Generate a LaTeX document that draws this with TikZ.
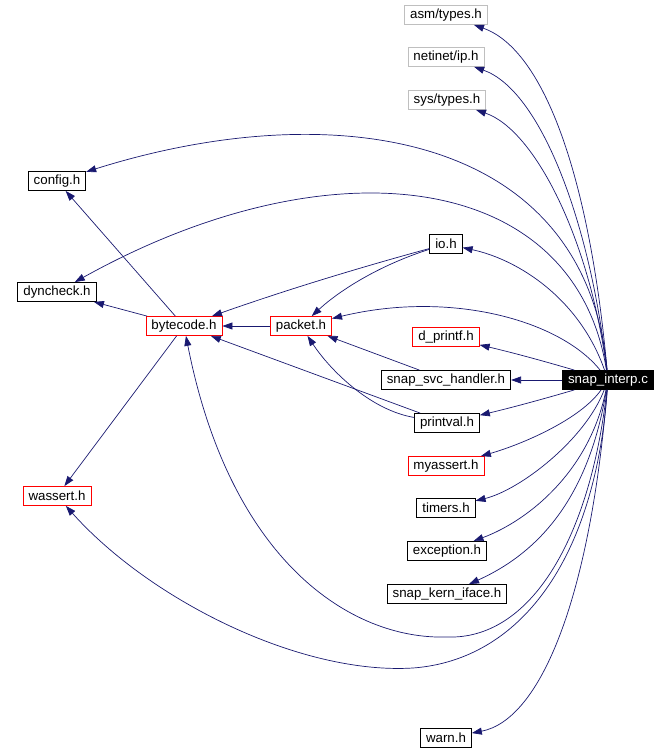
\documentclass[tikz,border=0pt]{standalone}
\usepackage{fontspec}
\setmainfont{Liberation Sans}
\usetikzlibrary{arrows.meta}
\definecolor{edgeblue}{HTML}{191970}
\definecolor{sysgray}{HTML}{BFBFBF}

\begin{document}
\begin{tikzpicture}[
  x=1pt, y=-1pt,
  every node/.style={font=\fontsize{13.3}{15}\selectfont},
  file/.style={
    draw=black, fill=white, line width=0.8pt,
    minimum height=19pt, inner xsep=5.5pt, inner ysep=0pt
  },
  redfile/.style={file, draw=red},
  sysfile/.style={file, draw=sysgray},
  mainfile/.style={file, fill=black, text=white},
  dep/.style={-{Triangle[length=10pt,width=7pt]}, color=edgeblue, line width=0.7pt}
]
  \useasboundingbox (0,0) rectangle (670,753);

  % Header files (right column)
  \node[sysfile] (asm) at (446,15) {asm/types.h};
  \node[sysfile] (netinet) at (446,57) {netinet/ip.h};
  \node[sysfile] (systypes) at (447,100) {sys/types.h};
  \node[file] (io) at (446,244) {io.h};
  \node[redfile] (dprintf) at (446,337) {d\_printf.h};
  \node[file] (svc) at (446,380) {snap\_svc\_handler.h};
  \node[file] (printval) at (447,423) {printval.h};
  \node[redfile] (myassert) at (446,466) {myassert.h};
  \node[file] (timers) at (446,508) {timers.h};
  \node[file] (exception) at (447,551) {exception.h};
  \node[file] (kern) at (447,594) {snap\_kern\_iface.h};
  \node[file] (warn) at (446,738) {warn.h};

  % Header files (left part)
  \node[file] (config) at (57,181) {config.h};
  \node[file] (dyncheck) at (57,292) {dyncheck.h};
  \node[redfile] (bytecode) at (184,326) {bytecode.h};
  \node[redfile] (packet) at (301,326) {packet.h};
  \node[redfile] (wassert) at (57,496) {wassert.h};

  % Source file
  \node[mainfile] (snap) at (608,380) {snap\_interp.c};

  % Includes of snap_interp.c
  \draw[dep] (snap) .. controls (590,180) and (545,50) .. (asm);
  \draw[dep] (snap) .. controls (590,220) and (540,90) .. (netinet);
  \draw[dep] (snap) .. controls (590,240) and (535,130) .. (systypes);
  \draw[dep] (snap) .. controls (585,130) and (330,95) .. (config);
  \draw[dep] (snap) .. controls (575,170) and (330,140) .. (dyncheck);
  \draw[dep] (snap) .. controls (580,300) and (520,260) .. (io);
  \draw[dep] (snap) .. controls (560,320) and (450,290) .. (packet);
  \draw[dep] (snap) .. controls (540,360) and (510,352) .. (dprintf);
  \draw[dep] (snap) -- (svc);
  \draw[dep] (snap) .. controls (540,400) and (510,408) .. (printval);
  \draw[dep] (snap) .. controls (580,420) and (520,445) .. (myassert);
  \draw[dep] (snap) .. controls (585,440) and (520,490) .. (timers);
  \draw[dep] (snap) .. controls (590,470) and (530,520) .. (exception);
  \draw[dep] (snap) .. controls (590,490) and (545,550) .. (kern);
  \draw[dep] (snap) .. controls (590,540) and (530,640) .. (447,637)
    .. controls (350,640) and (230,560) .. (bytecode);
  \draw[dep] (snap) .. controls (595,560) and (520,660) .. (413,668)
    .. controls (300,675) and (150,600) .. (wassert);
  \draw[dep] (snap) .. controls (590,600) and (540,720) .. (warn);

  % Includes between headers
  \draw[dep] (bytecode) -- (config);
  \draw[dep] (bytecode) -- (dyncheck);
  \draw[dep] (bytecode) -- (wassert);
  \draw[dep] (packet) -- (bytecode);
  \draw[dep] (io) .. controls (380,262) and (300,285) .. (bytecode);
  \draw[dep] (io) .. controls (380,265) and (340,290) .. (packet);
  \draw[dep] (svc) -- (packet);
  \draw[dep] (printval) -- (bytecode);
  \draw[dep] (printval) .. controls (370,410) and (330,370) .. (packet);

\end{tikzpicture}
\end{document}
